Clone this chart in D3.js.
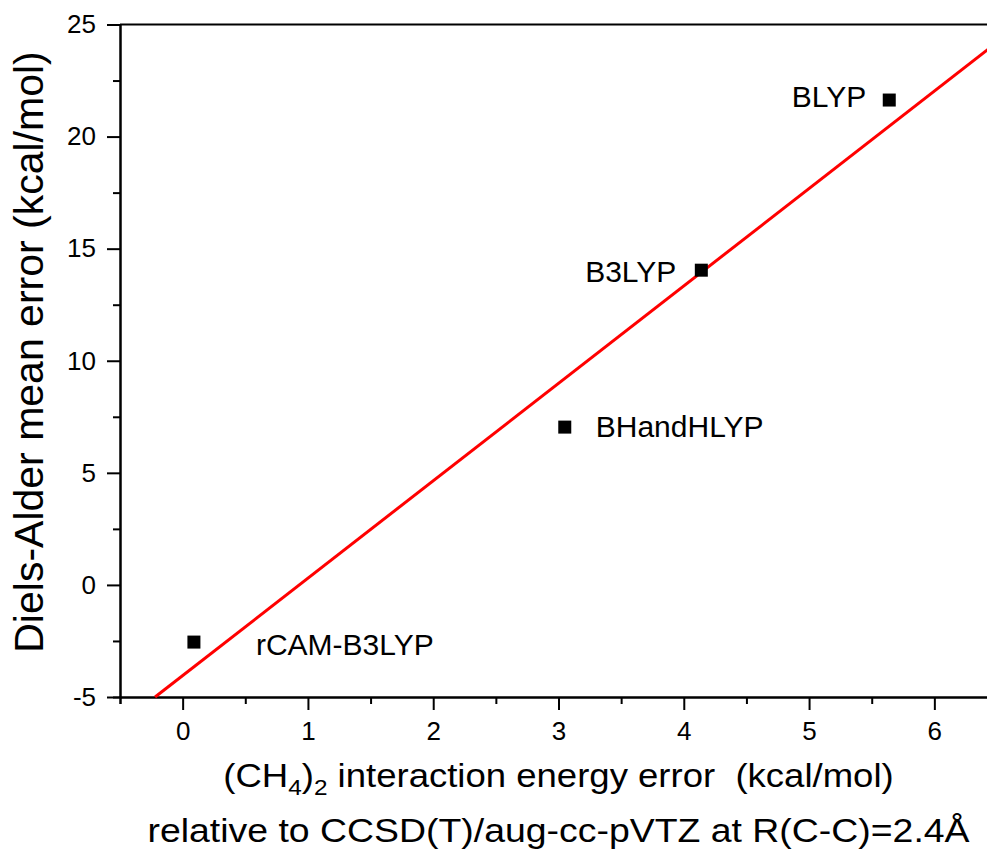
<!DOCTYPE html>
<html>
<head>
<meta charset="utf-8">
<script src="https://cdn.jsdelivr.net/npm/d3@7"></script>
<style>
  body { margin: 0; background: #fff; }
  svg { display: block; font-family: "Liberation Sans", Arial, sans-serif; }
  .axis path, .axis line { stroke: #000; stroke-width: 2; }
  .axis text { font-size: 26px; fill: #000; font-family: "Liberation Sans", Arial, sans-serif; }
</style>
</head>
<body>
<div id="chart"></div>
<script>
// functionals and their errors (kcal/mol)
const names = ['rCAM-B3LYP', 'BHandHLYP', 'B3LYP', 'BLYP']
const methaneErr = [0.09, 3.05, 4.14, 5.64]
const dielsAlderErr = [-2.55, 7.04, 14.04, 21.63]

// linear fit line, ends
const fitX = [-0.22, 6.5]
const fitY = [-5.0, 24.2]

const xMajor = [0, 1, 2, 3, 4, 5, 6]
const xMinor = [-0.5, 0.5, 1.5, 2.5, 3.5, 4.5, 5.5, 6.5]
const yMajor = [-5, 0, 5, 10, 15, 20, 25]
const yMinor = [-2.5, 2.5, 7.5, 12.5, 17.5, 22.5]

// label placement relative to the marker (px)
const labelPos = {
    'rCAM-B3LYP': {dx: 62, dy: 13, anchor: 'start'},
    'BHandHLYP': {dx: 31, dy: 10, anchor: 'start'},
    'B3LYP': {dx: -25, dy: 12, anchor: 'end'},
    'BLYP': {dx: -23, dy: 7, anchor: 'end'}
}

const W = 987, H = 854
const margin = {top: 24.5, left: 120, right: -10, bottom: 157}
const width = W - margin.left - margin.right
const height = H - margin.top - margin.bottom

const svg = d3.select('#chart').append('svg')
    .attr('width', W)
    .attr('height', H)

const g = svg.append('g')
    .attr('transform', `translate(${margin.left},${margin.top})`)

const x = d3.scaleLinear().domain([-0.5, 6.5]).range([0, width])
const y = d3.scaleLinear().domain([-5, 25]).range([height, 0])

const fmt = d => String(d)

// minor ticks first, then major axes on top
g.append('g').attr('class', 'axis')
    .attr('transform', `translate(0,${height})`)
    .call(d3.axisBottom(x).tickValues(xMinor).tickSize(7).tickFormat(''))
g.append('g').attr('class', 'axis')
    .call(d3.axisLeft(y).tickValues(yMinor).tickSize(7).tickFormat(''))

g.append('g').attr('class', 'axis')
    .attr('transform', `translate(0,${height})`)
    .call(d3.axisBottom(x).tickValues(xMajor).tickSize(13).tickSizeOuter(0).tickPadding(12).tickFormat(fmt))
g.append('g').attr('class', 'axis')
    .call(d3.axisLeft(y).tickValues(yMajor).tickSize(13).tickSizeOuter(0).tickPadding(11).tickFormat(fmt))

// top frame line
g.append('line')
    .attr('x1', 0).attr('x2', width)
    .attr('y1', 0).attr('y2', 0)
    .attr('stroke', '#000').attr('stroke-width', 2)

// fit line
g.append('line')
    .attr('x1', x(fitX[0])).attr('y1', y(fitY[0]))
    .attr('x2', x(fitX[1])).attr('y2', y(fitY[1]))
    .attr('stroke', '#ff0000').attr('stroke-width', 3)

// points
const pts = names.map((n, i) => ({name: n, x: methaneErr[i], y: dielsAlderErr[i]}))
const sz = 13
g.selectAll('rect.pt').data(pts).enter().append('rect')
    .attr('class', 'pt')
    .attr('x', d => x(d.x) - sz / 2)
    .attr('y', d => y(d.y) - sz / 2)
    .attr('width', sz).attr('height', sz)
    .attr('fill', '#000')

g.selectAll('text.lbl').data(pts).enter().append('text')
    .attr('class', 'lbl')
    .attr('x', d => x(d.x) + labelPos[d.name].dx)
    .attr('y', d => y(d.y) + labelPos[d.name].dy)
    .attr('text-anchor', d => labelPos[d.name].anchor)
    .attr('font-size', 30)
    .text(d => d.name)

// y axis title
svg.append('text')
    .attr('transform', `translate(43,352) rotate(-90)`)
    .attr('text-anchor', 'middle')
    .attr('font-size', 41)
    .text('Diels-Alder mean error (kcal/mol)')

// x axis title, two lines
const cx = margin.left + width / 2
const t1 = svg.append('g').attr('transform', `translate(${cx},787) scale(1.107,1)`)
    .append('text').attr('text-anchor', 'middle').attr('font-size', 33)
t1.append('tspan').text('(CH')
t1.append('tspan').attr('font-size', 22).attr('dy', 8).text('4')
t1.append('tspan').attr('dy', -8).text(')')
t1.append('tspan').attr('font-size', 22).attr('dy', 8).text('2')
t1.append('tspan').attr('dy', -8).text(' interaction energy error\u00a0 (kcal/mol)')

svg.append('g').attr('transform', `translate(${cx},842) scale(1.134,1)`)
    .append('text').attr('text-anchor', 'middle').attr('font-size', 33)
    .text('relative to CCSD(T)/aug-cc-pVTZ at R(C-C)=2.4Å')
</script>
</body>
</html>
